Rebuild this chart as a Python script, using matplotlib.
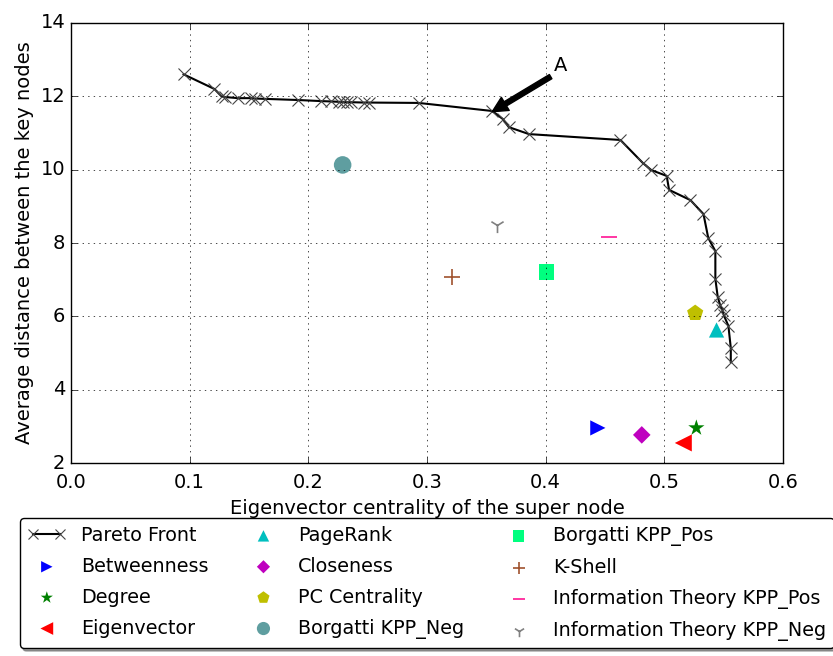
import matplotlib
matplotlib.use("Agg")
import matplotlib.pyplot as plt

plt.style.use("classic")
plt.rcParams["font.size"] = 14

# Pareto front of (eigenvector centrality, average distance)
pareto_x = [0.095, 0.121, 0.127, 0.130, 0.141, 0.152, 0.155, 0.164, 0.191,
            0.211, 0.219, 0.226, 0.229, 0.233, 0.236, 0.247, 0.251, 0.293,
            0.355, 0.364, 0.369, 0.386, 0.463, 0.482, 0.489, 0.502, 0.504,
            0.522, 0.533, 0.537, 0.543, 0.543, 0.545, 0.547, 0.549, 0.550,
            0.554, 0.556, 0.556]
pareto_y = [12.60, 12.20, 12.00, 11.98, 11.95, 11.95, 11.94, 11.93, 11.90,
            11.87, 11.86, 11.85, 11.85, 11.84, 11.84, 11.83, 11.83, 11.82,
            11.60, 11.38, 11.16, 10.97, 10.81, 10.18, 9.99, 9.83, 9.45,
            9.17, 8.79, 8.14, 7.78, 7.02, 6.53, 6.31, 6.17, 6.04,
            5.74, 5.14, 4.76]

# single-solution heuristics
methods = ["Betweenness", "Degree", "Eigenvector", "PageRank", "Closeness",
           "PC Centrality", "Borgatti KPP_Neg", "Borgatti KPP_Pos", "K-Shell",
           "Information Theory KPP_Pos", "Information Theory KPP_Neg"]
method_x = [0.444, 0.527, 0.516, 0.544, 0.481, 0.526, 0.229, 0.401, 0.321, 0.453, 0.359]
method_y = [2.96, 2.96, 2.55, 5.63, 2.77, 6.09, 10.13, 7.21, 7.07, 8.16, 8.49]
markers = [">", "*", "<", "^", "D", "p", "o", "s", "+", "_", "1"]
colors = ["b", "g", "r", "c", "m", "y", "#5f9ea0", "#00ff7f", "#a0522d", "#ff1493", "#808080"]
sizes = [120, 150, 150, 120, 80, 150, 160, 120, 120, 120, 120]

fig = plt.figure(figsize=(8.33, 6.56), dpi=100)
ax = fig.add_axes([0.085, 0.294, 0.855, 0.671])

ax.plot(pareto_x, pareto_y, "k-x", lw=1.5, ms=9, mew=0.8, mec="#444444", label="Pareto Front")
for name, x, y, m, c, s in zip(methods, method_x, method_y, markers, colors, sizes):
    lw = 1.2 if m in ("+", "_", "1") else 0
    ax.scatter([x], [y], marker=m, s=s, c=c, edgecolors=c if lw else "none",
               linewidths=lw, label=name)

ax.annotate("A", xy=(0.355, 11.58), xytext=(0.407, 12.7), fontsize=14,
            arrowprops=dict(facecolor="black", edgecolor="black", width=3.5,
                            headwidth=11, headlength=11, shrink=0.0))

ax.set_xlim(0.0, 0.6)
ax.set_ylim(2, 14)
ax.set_xlabel("Eigenvector centrality of the super node")
ax.set_ylabel("Average distance between the key nodes")
ax.tick_params(axis="x", pad=7)
ax.grid(True)

# legend order: column-major, 4 rows x 3 columns
handles, labels = ax.get_legend_handles_labels()
order = ["Pareto Front", "Betweenness", "Degree", "Eigenvector",
         "PageRank", "Closeness", "PC Centrality", "Borgatti KPP_Neg",
         "Borgatti KPP_Pos", "K-Shell", "Information Theory KPP_Pos", "Information Theory KPP_Neg"]
lookup = dict(zip(labels, handles))
fig.legend([lookup[k] for k in order], order, loc="upper left",
           bbox_to_anchor=(0.024, 0.21), ncol=3, numpoints=2, scatterpoints=1,
           markerscale=0.75, fancybox=True, shadow=True, fontsize=13.8,
           labelspacing=0.62, columnspacing=1.85, borderaxespad=0.0)

fig.savefig("out.png", dpi=100)
